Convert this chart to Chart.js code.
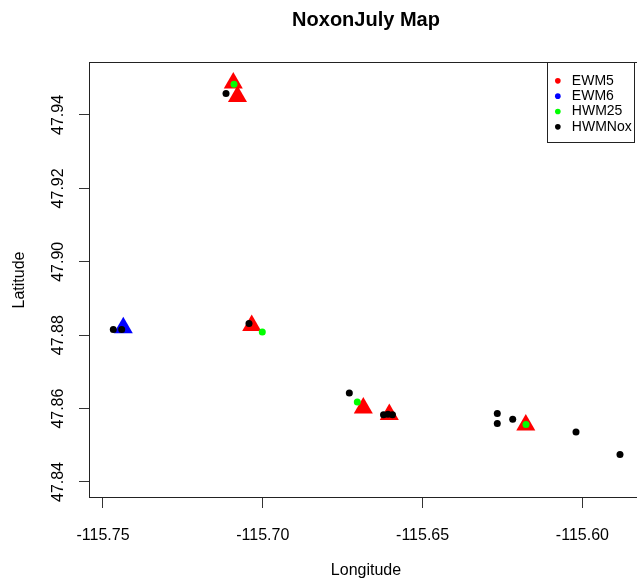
<!DOCTYPE html>
<html>
<head>
<meta charset="utf-8">
<title>NoxonJuly Map</title>
<script src="https://cdn.jsdelivr.net/npm/chart.js@4.4.1/dist/chart.umd.min.js"></script>
<style>
    html, body { margin: 0; padding: 0; background: #fff; overflow: hidden; }
    #map { display: block; }
</style>
</head>
<body>
<!-- canvas is a bit wider than the window: the right side of the frame is cut off, like the original -->
<canvas id="map" width="654" height="580"></canvas>
<script>
    // site coordinates (longitude / latitude)
    var ewm5Lon = [-115.70923, -115.70792, -115.70347, -115.66855, -115.66042, -115.61771];
    var ewm5Lat = [47.94872, 47.94504, 47.88262, 47.86016, 47.85837, 47.85553];

    var ewm6Lon = [-115.74365];
    var ewm6Lat = [47.88202];

    var hwm25Lon = [-115.70901, -115.70016, -115.67043, -115.61765];
    var hwm25Lat = [47.94837, 47.88087, 47.86180, 47.85564];

    var hwmNoxLon = [-115.71151, -115.74678, -115.74415, -115.70432, -115.67293, -115.66223, -115.66083,
                     -115.65942, -115.62663, -115.62663, -115.62181, -115.60200, -115.58824];
    var hwmNoxLat = [47.94583, 47.88153, 47.88153, 47.88316, 47.86425, 47.85831, 47.85845,
                     47.85831, 47.85864, 47.85591, 47.85708, 47.85362, 47.84747];

    // axis ranges and tick steps
    var lonRange = [-115.75438, -115.58104];
    var latRange = [47.83564, 47.95444];
    var lonStep = 0.05;
    var latStep = 0.02;

    function toPoints(lons, lats) {
        var pts = [];
        for (var i = 0; i < lons.length; i++) {
            pts.push({x: lons[i], y: lats[i]});
        }
        return pts;
    }

    Chart.defaults.font.family = "'Liberation Sans', Arial, sans-serif";
    Chart.defaults.color = '#000';

    // R style: full frame round the plot, legend boxed in the top right corner
    var framePlugin = {
        id: 'framePlugin',
        afterLayout: function (chart) {
            var lg = chart.legend;
            var area = chart.chartArea;
            lg.left = area.right - 96 + 2.5;
            lg.top = area.top + 10.5;
            lg.width = 90;
            lg.height = 90;
            lg.right = lg.left + lg.width;
            lg.bottom = lg.top + lg.height;
        },
        afterDraw: function (chart) {
            var ctx = chart.ctx;
            var area = chart.chartArea;
            ctx.save();
            ctx.strokeStyle = '#222';
            ctx.lineWidth = 1;
            ctx.strokeRect(area.left + 0.5, area.top + 0.5, area.right - area.left - 1, area.bottom - area.top - 1);
            ctx.strokeRect(area.right - 95.5, area.top + 0.5, 87, 80);
            ctx.restore();
        }
    };

    var tickFont = {size: 16};

    new Chart(document.getElementById('map').getContext('2d'), {
        type: 'scatter',
        data: {
            datasets: [{
                label: 'EWM5',
                data: toPoints(ewm5Lon, ewm5Lat),
                pointStyle: 'triangle',
                pointRadius: 11,
                backgroundColor: '#ff0000',
                borderColor: '#ff0000',
                borderWidth: 0,
                order: 2
            }, {
                label: 'EWM6',
                data: toPoints(ewm6Lon, ewm6Lat),
                pointStyle: 'triangle',
                pointRadius: 11,
                backgroundColor: '#0000ff',
                borderColor: '#0000ff',
                borderWidth: 0,
                order: 2
            }, {
                label: 'HWM25',
                data: toPoints(hwm25Lon, hwm25Lat),
                pointRadius: 3.5,
                backgroundColor: '#00ff00',
                borderColor: '#00ff00',
                borderWidth: 0,
                order: 1
            }, {
                label: 'HWMNox',
                data: toPoints(hwmNoxLon, hwmNoxLat),
                pointRadius: 3.5,
                backgroundColor: '#000000',
                borderColor: '#000000',
                borderWidth: 0,
                order: 0
            }]
        },
        options: {
            responsive: false,
            animation: false,
            devicePixelRatio: 1,
            layout: {padding: {left: 0, top: 0, right: 7, bottom: 0}},
            plugins: {
                title: {
                    display: true,
                    text: 'NoxonJuly Map',
                    fullSize: false,
                    color: '#000',
                    font: {size: 20, weight: 'bold'},
                    padding: {top: 8, bottom: 30}
                },
                legend: {
                    position: 'chartArea',
                    align: 'start',
                    labels: {
                        usePointStyle: true,
                        pointStyle: 'circle',
                        boxWidth: 14,
                        boxHeight: 4,
                        padding: 1.33,
                        color: '#000',
                        font: {size: 14},
                        sort: function (a, b) { return a.datasetIndex - b.datasetIndex; }
                    }
                },
                tooltip: {enabled: false}
            },
            scales: {
                x: {
                    type: 'linear',
                    position: 'bottom',
                    min: lonRange[0],
                    max: lonRange[1],
                    border: {display: false},
                    grid: {drawOnChartArea: false, drawTicks: true, tickLength: 10, color: '#333'},
                    ticks: {
                        stepSize: lonStep,
                        includeBounds: false,
                        autoSkip: false,
                        maxRotation: 0,
                        padding: 18,
                        font: tickFont,
                        callback: function (v) { return v.toFixed(2); }
                    },
                    title: {display: true, text: 'Longitude', font: {size: 16}, padding: {top: 0, bottom: 0}},
                    afterFit: function (scale) {
                        scale.height = 82;
                        scale.paddingLeft = 0;
                        scale.paddingRight = 0;
                    }
                },
                y: {
                    type: 'linear',
                    position: 'left',
                    min: latRange[0],
                    max: latRange[1],
                    border: {display: false},
                    grid: {drawOnChartArea: false, drawTicks: true, tickLength: 10, color: '#333'},
                    ticks: {
                        stepSize: latStep,
                        includeBounds: false,
                        autoSkip: false,
                        minRotation: 90,
                        maxRotation: 90,
                        crossAlign: 'center',
                        padding: 0,
                        font: tickFont,
                        callback: function (v) { return v.toFixed(2); }
                    },
                    title: {display: true, text: 'Latitude', font: {size: 16}, padding: {top: 10, bottom: 0}},
                    afterFit: function (scale) {
                        scale.width = 89;
                        scale.paddingTop = 0;
                        scale.paddingBottom = 0;
                    }
                }
            }
        },
        plugins: [framePlugin]
    });
</script>
</body>
</html>
